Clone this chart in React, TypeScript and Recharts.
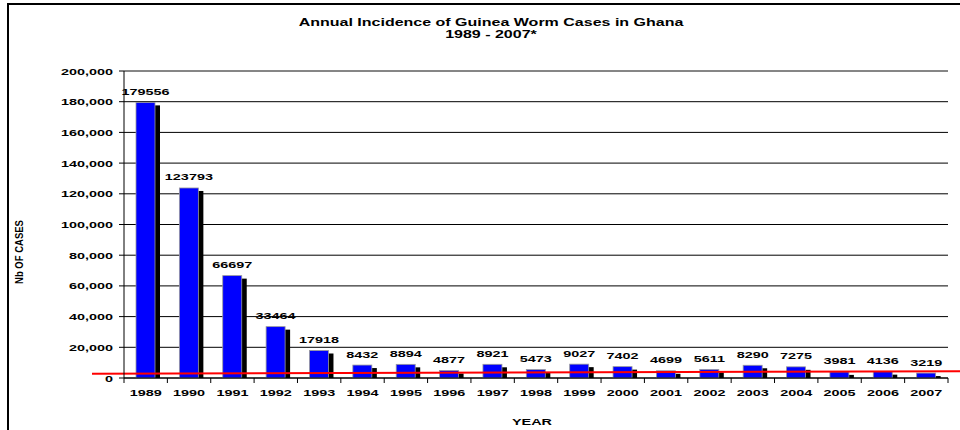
import React from 'react';
import {
    BarChart,
    Bar,
    XAxis,
    YAxis,
    CartesianGrid,
    ReferenceLine,
    LabelList,
} from 'recharts';

// chart values
const years = ['1989', '1990', '1991', '1992', '1993', '1994', '1995', '1996', '1997', '1998',
    '1999', '2000', '2001', '2002', '2003', '2004', '2005', '2006', '2007'];
const cases = [179556, 123793, 66697, 33464, 17918, 8432, 8894, 4877, 8921, 5473,
    9027, 7402, 4699, 5611, 8290, 7275, 3981, 4136, 3219];
const yTicks = [0, 20000, 40000, 60000, 80000, 100000, 120000, 140000, 160000, 180000, 200000];
const targetLevel = 3500; // red line

const data = years.map((year, i) => ({ year, cases: cases[i] }));

const W = 960;
const H = 430;
const MARGIN = { top: 71, right: 12, bottom: 22, left: 0 };
const Y_AXIS_W = 124;
const BAND = (W - MARGIN.right - Y_AXIS_W) / years.length;
const FONT = '"Liberation Sans", Arial, sans-serif';
const STRETCH = 1.6; // the original text is stretched sideways

const Stretched = ({ x, y, anchor, children, size = 9 }: any) => (
    <text
        transform={`translate(${x},${y}) scale(${STRETCH},1)`}
        textAnchor={anchor}
        fontFamily={FONT}
        fontWeight="bold"
        fontSize={size}
        fill="#000"
    >
        {children}
    </text>
);

const YTick = ({ x, y, payload }: any) => (
    <Stretched x={x} y={y + 3.5} anchor="end">
        {payload.value.toLocaleString('en-US')}
    </Stretched>
);

const XTick = ({ x, y, payload, index }: any) => {
    const axisY = y - 2;
    return (
        <g>
            <line x1={x - BAND / 2} x2={x - BAND / 2} y1={axisY} y2={axisY + 5} stroke="#000" />
            {index === years.length - 1 && (
                <line x1={x + BAND / 2} x2={x + BAND / 2} y1={axisY} y2={axisY + 5} stroke="#000" />
            )}
            <Stretched x={x} y={axisY + 18} anchor="middle">
                {payload.value}
            </Stretched>
        </g>
    );
};

const ShadowBar = ({ x, y, width, height }: any) => {
    if (!height || height <= 0) return null;
    return (
        <g>
            <rect x={x + 5} y={y + 3} width={width} height={Math.max(height - 3, 0)} fill="#000" />
            <rect x={x} y={y} width={width} height={height} fill="#0000FF" stroke="#9a9a9a" strokeWidth={0.8} />
        </g>
    );
};

const ValueLabel = ({ x, y, width, value }: any) => (
    <Stretched x={x + width / 2} y={y - 7.5} anchor="middle">
        {value}
    </Stretched>
);

const RedLine = (p: any) => (
    <line x1={p.x1 - 32} y1={p.y1 + 1} x2={p.x2 + 12} y2={p.y2 - 1.5} stroke="#ff0000" strokeWidth={2} />
);

const textBase: React.CSSProperties = {
    position: 'absolute',
    fontFamily: FONT,
    fontWeight: 'bold',
    color: '#000',
    whiteSpace: 'nowrap',
};

export default function App() {
    return (
        <div style={{ position: 'absolute', left: 0, top: 0, width: W, height: H, overflow: 'hidden', background: '#fff' }}>
            <div style={{ position: 'absolute', left: 7, top: 3, width: 1000, height: 500, border: '2px solid #000' }} />
            <div
                style={{
                    ...textBase,
                    left: 491,
                    top: 17,
                    fontSize: 10,
                    lineHeight: '12px',
                    textAlign: 'center',
                    transform: `translateX(-50%) scaleX(${STRETCH})`,
                }}
            >
                Annual Incidence of Guinea Worm Cases in Ghana
                <br />
                1989 - 2007*
            </div>
            <div
                style={{
                    ...textBase,
                    left: 19,
                    top: 252,
                    fontSize: 9.5,
                    lineHeight: '11px',
                    transform: 'translate(-50%,-50%) scale(1.2,1) rotate(-90deg)',
                }}
            >
                Nb OF CASES
            </div>
            <div
                style={{
                    ...textBase,
                    left: 532,
                    top: 416.5,
                    fontSize: 9,
                    lineHeight: '11px',
                    transform: `translateX(-50%) scaleX(${STRETCH})`,
                }}
            >
                YEAR
            </div>
            <div style={{ position: 'absolute', left: 0, top: 0 }}>
                <BarChart width={W} height={H} data={data} margin={MARGIN} barSize={19}>
                    <CartesianGrid vertical={false} stroke="#000" strokeOpacity={1} />
                    <XAxis
                        dataKey="year"
                        height={30}
                        axisLine={{ stroke: '#000' }}
                        tickLine={false}
                        tickSize={0}
                        tickMargin={2}
                        interval={0}
                        tick={<XTick />}
                    />
                    <YAxis
                        width={Y_AXIS_W}
                        domain={[0, 200000]}
                        ticks={yTicks}
                        interval={0}
                        axisLine={{ stroke: '#000' }}
                        tickLine={{ stroke: '#000' }}
                        tickSize={5}
                        tickMargin={6}
                        tick={<YTick />}
                    />
                    <YAxis
                        yAxisId="frame"
                        orientation="right"
                        width={0}
                        tick={false}
                        tickLine={false}
                        axisLine={{ stroke: '#8c8c8c' }}
                    />
                    <ReferenceLine y={200000} stroke="#8c8c8c" ifOverflow="visible" />
                    <Bar dataKey="cases" shape={<ShadowBar />} isAnimationActive={false}>
                        <LabelList dataKey="cases" content={<ValueLabel />} />
                    </Bar>
                    <ReferenceLine y={targetLevel} ifOverflow="visible" shape={<RedLine />} />
                </BarChart>
            </div>
        </div>
    );
}
